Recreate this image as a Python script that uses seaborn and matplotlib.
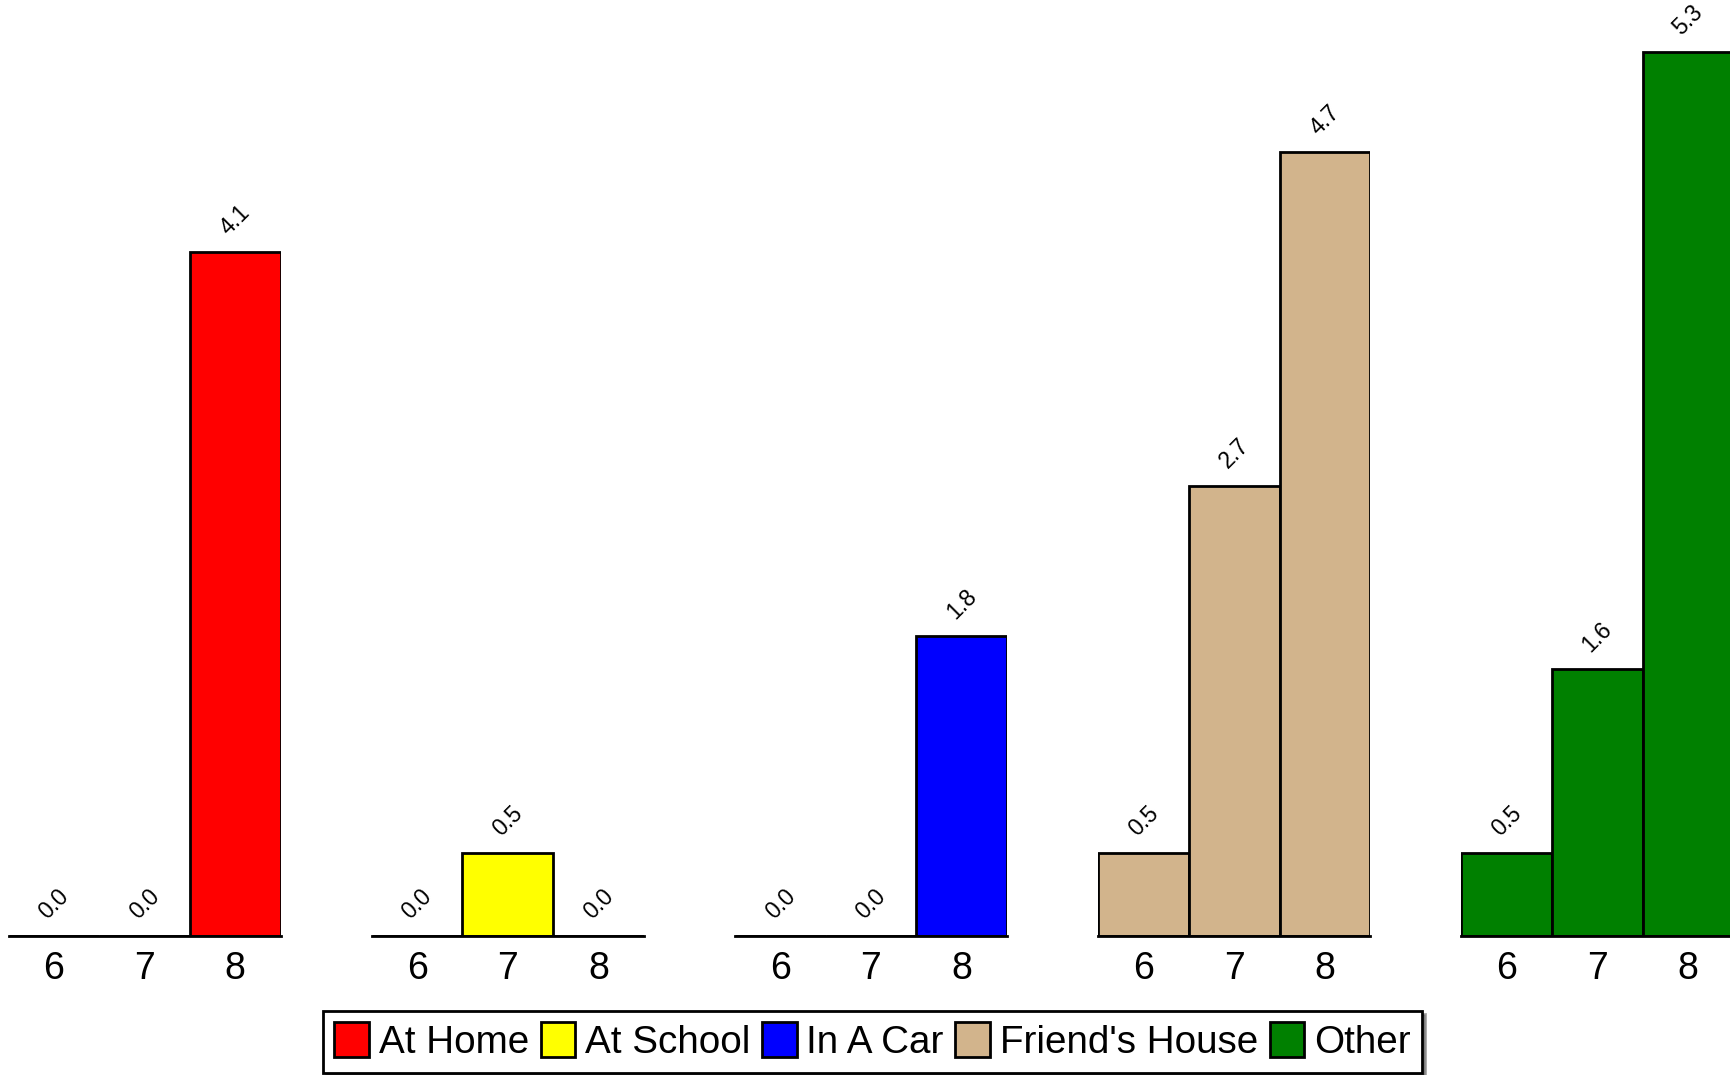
import numpy as np
import pandas as pd
import matplotlib.pyplot as plt
import matplotlib.patches as mpatches
import seaborn as sns

sns.set_style("white")
plt.rcParams['font.family'] = ['Liberation Sans', 'DejaVu Sans']
plt.rcParams['text.color'] = 'black'
plt.rcParams['xtick.color'] = 'black'

# data
grades = ["6", "7", "8"]
locations = ["At Home", "At School", "In A Car", "Friend's House", "Other"]
at_home = [0.0, 0.0, 4.1]
at_school = [0.0, 0.5, 0.0]
in_a_car = [0.0, 0.0, 1.8]
friends_house = [0.5, 2.7, 4.7]
other = [0.5, 1.6, 5.3]
colors = ["#FF0000", "#FFFF00", "#0000FF", "#D2B48C", "#008000"]

series = [at_home, at_school, in_a_car, friends_house, other]

fig = plt.figure(figsize=(17.31, 10.75), dpi=100)

ax_w = 272 / 1731
ax_h = 936 / 1075
bottom = 1 - ax_h
step = 363.2 / 1731
left0 = 8.6 / 1731

for i, (loc, vals, col) in enumerate(zip(locations, series, colors)):
    ax = fig.add_axes([left0 + i * step, bottom, ax_w, ax_h])
    df = pd.DataFrame({"grade": grades, "value": vals})
    sns.barplot(data=df, x="grade", y="value", color=col, saturation=1,
                width=1.0, edgecolor="black", linewidth=2, ax=ax)
    ax.bar_label(ax.containers[0], fmt="%.1f", rotation=45, padding=9,
                 fontsize=16.5, color="black", clip_on=False)
    ax.set_xlim(-0.5, 2.5)
    ax.set_ylim(0, 5.61)
    ax.set_xlabel("")
    ax.set_ylabel("")
    ax.set_yticks([])
    for s in ["top", "left", "right"]:
        ax.spines[s].set_visible(False)
    ax.spines["bottom"].set_color("black")
    ax.spines["bottom"].set_linewidth(2)
    ax.tick_params(axis="x", length=0, pad=11, labelsize=27, labelcolor="black")
    ax.patch.set_alpha(0)

handles = [mpatches.Patch(facecolor=c, edgecolor="black", linewidth=2, label=l)
           for l, c in zip(locations, colors)]
leg = fig.legend(handles=handles, loc="center", bbox_to_anchor=(0.504, 0.031),
                 ncol=5, fontsize=27.8, frameon=True, shadow=True, fancybox=False,
                 handlelength=0.9, handleheight=1.0, handletextpad=0.25,
                 columnspacing=0.3, borderpad=0.3, borderaxespad=0)
leg.get_frame().set_edgecolor("black")
leg.get_frame().set_linewidth(2)

fig.savefig("out.png", dpi=100)
